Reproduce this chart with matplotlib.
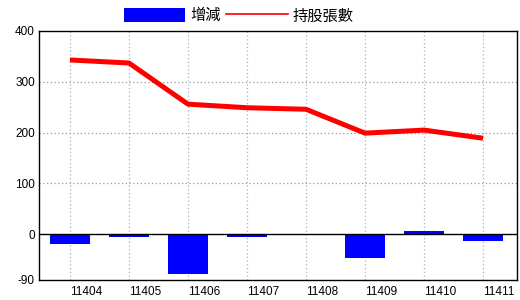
import numpy as np
import matplotlib.pyplot as plt
import matplotlib.transforms as mtransforms
from matplotlib.patches import Patch
from matplotlib.lines import Line2D

plt.rcParams['font.family'] = ['Liberation Sans', 'Noto Sans CJK TC', 'DejaVu Sans']

# data
months = ["11404", "11405", "11406", "11407", "11408", "11409", "11410", "11411"]
change = [-19, -5, -78, -5, 0, -47, 6, -13]
holders = [343, 337, 256, 249, 246, 199, 205, 189]
yticks = [-90, 0, 100, 200, 300, 400]

x = np.arange(len(months))

fig = plt.figure(figsize=(5.2, 3.0), dpi=100)
ax = fig.add_axes([39 / 520, 20 / 300, 478 / 520, 249 / 300])

# grids
for xi in x:
    ax.axvline(xi, color="#9db4c6", linestyle=(0, (1, 2)), linewidth=0.9, zorder=0)
for yv in [100, 200, 300]:
    ax.axhline(yv, color="#999999", linestyle=(0, (1, 2)), linewidth=0.9, zorder=0)

ax.bar(x, change, width=0.68, color="#0000ff", zorder=2)
ax.axhline(0, color="black", linewidth=1, zorder=3)
ax.plot(x, holders, color="#ff0000", linewidth=3.6, zorder=4, solid_capstyle="butt")

ax.set_xlim(-0.525, 7.576)
ax.set_ylim(-90, 400)
ax.set_yticks(yticks)
ax.set_yticklabels([str(v) for v in yticks])
ax.set_xticks(x)
ax.set_xticklabels(months, ha="left")
offset = mtransforms.ScaledTranslation(2 / 72, 0, fig.dpi_scale_trans)
for lbl in ax.get_xticklabels():
    lbl.set_transform(lbl.get_transform() + offset)
ax.tick_params(axis="both", length=0, labelsize=8.5, colors="black")
ax.tick_params(axis="y", pad=3)
ax.tick_params(axis="x", pad=4)
for s in ax.spines.values():
    s.set_color("black")
    s.set_linewidth(1)

handles = [
    Patch(facecolor="#0000ff", edgecolor="none", label="增減"),
    Line2D([], [], color="#ff0000", linewidth=1.2, label="持股張數"),
]
fig.legend(handles=handles, loc="center", bbox_to_anchor=(0.459, 0.947), ncol=2,
           frameon=False, fontsize=11, handlelength=4.0, handleheight=1.0,
           handletextpad=0.3, columnspacing=0.4, borderaxespad=0)

fig.savefig("out.png", dpi=100)
